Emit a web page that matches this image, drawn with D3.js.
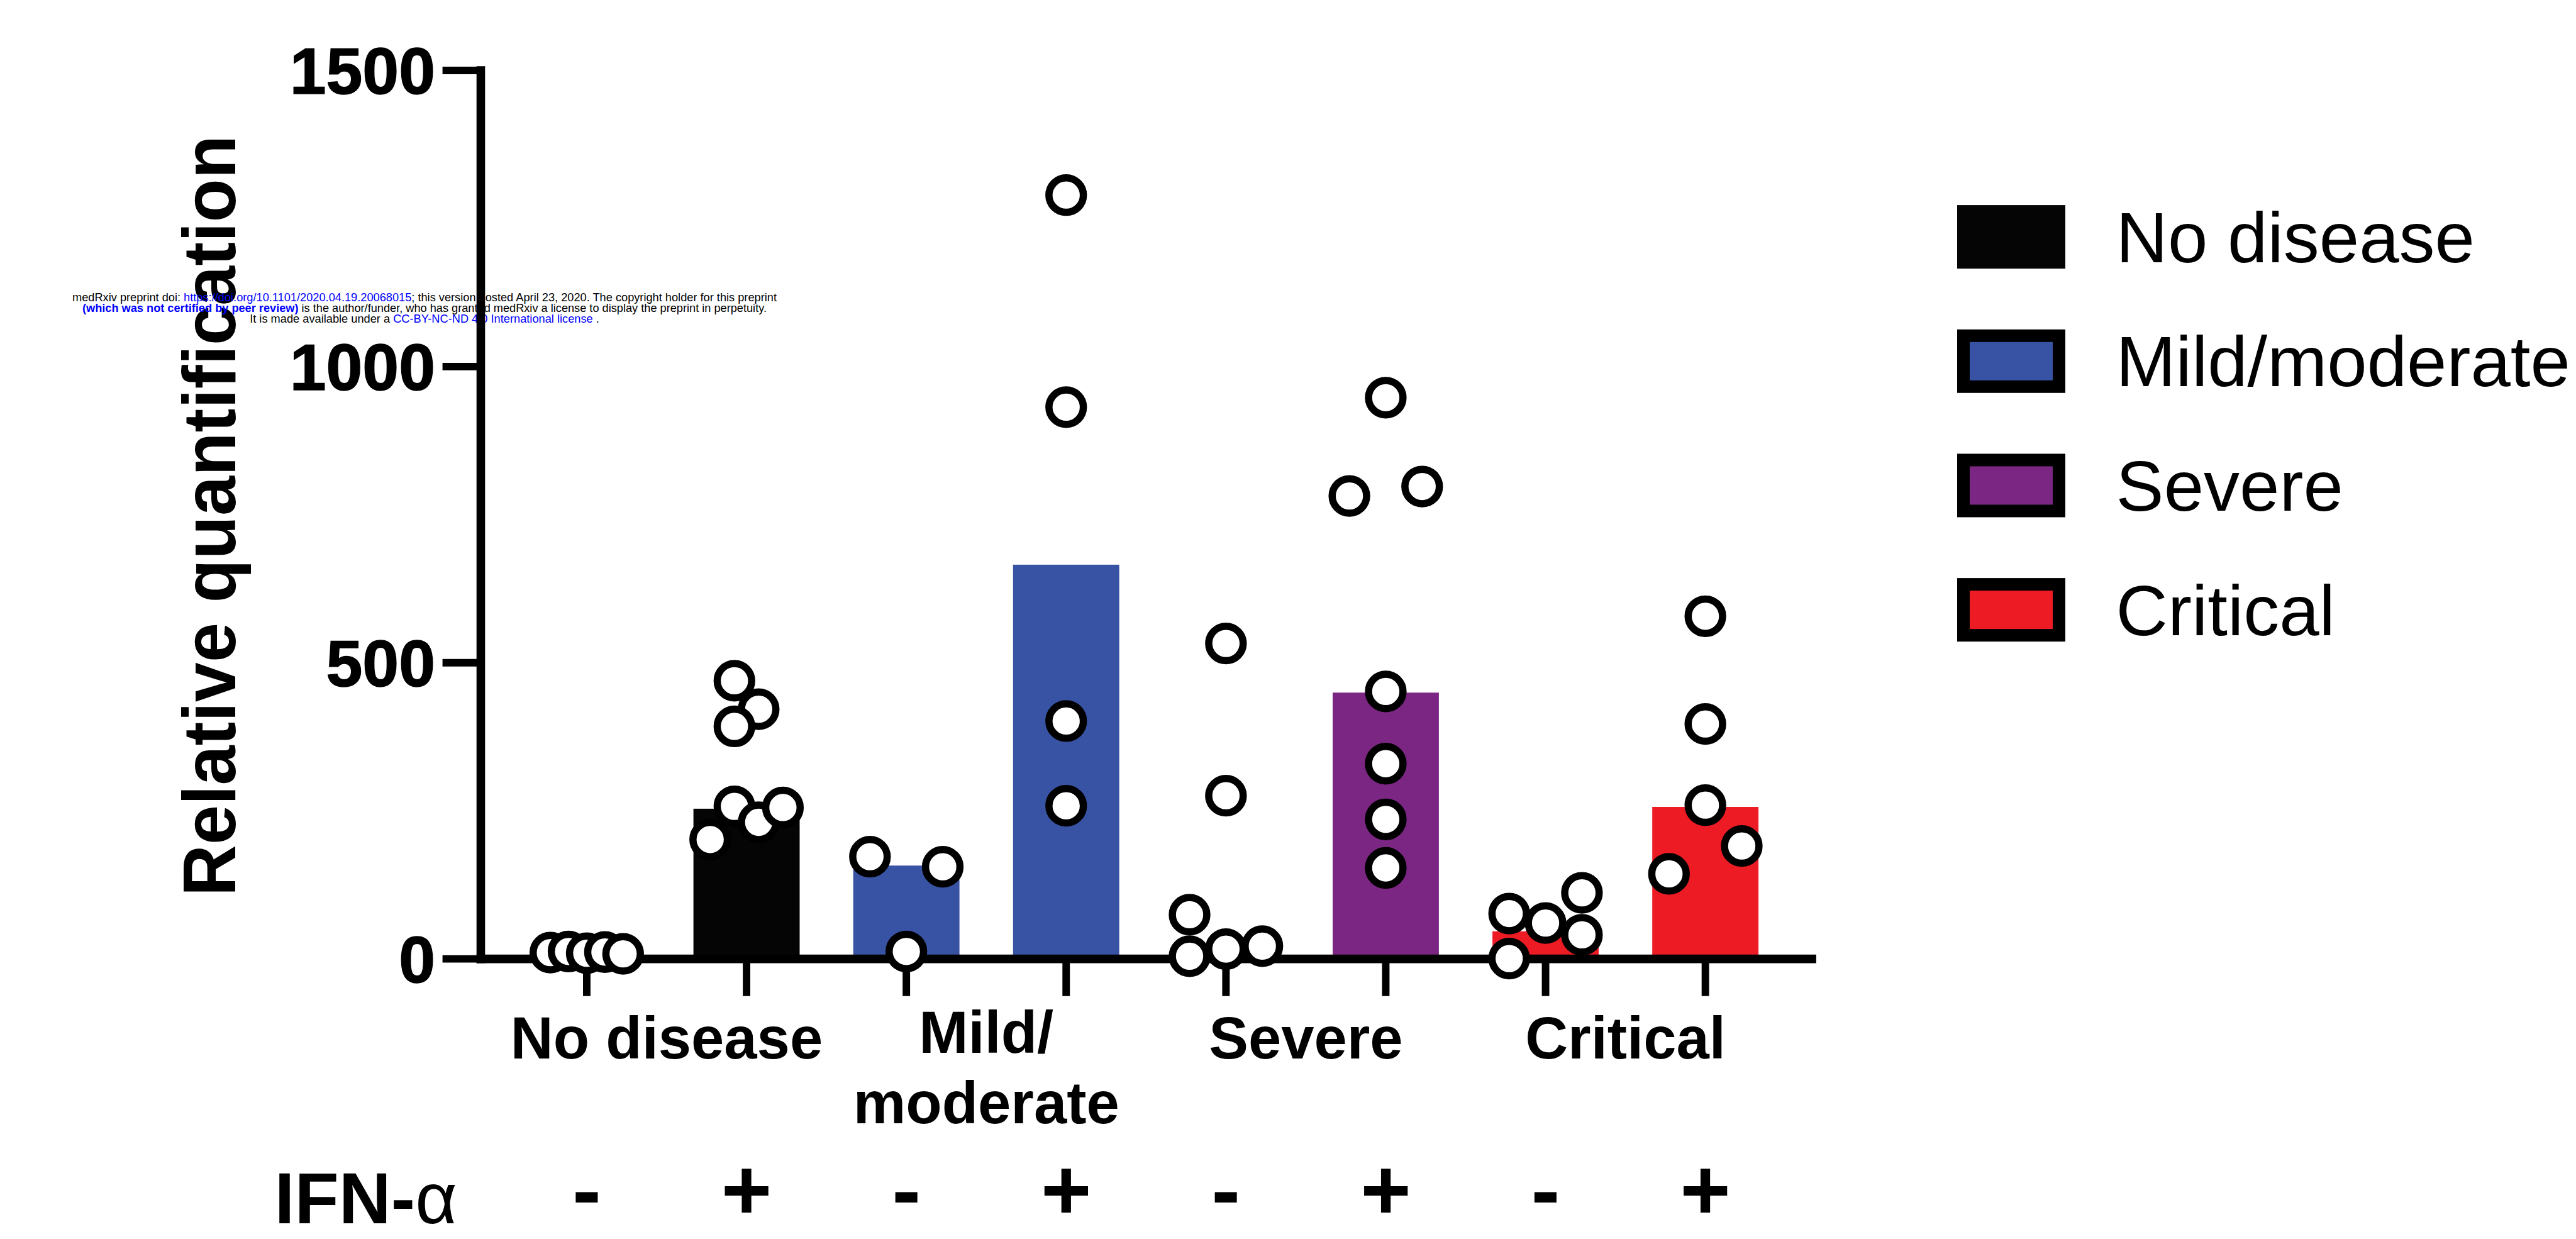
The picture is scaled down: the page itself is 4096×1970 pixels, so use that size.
<!DOCTYPE html>
<html>
<head>
<meta charset="utf-8">
<script src="https://cdn.jsdelivr.net/npm/d3@7"></script>
<style>
  html, body { margin: 0; padding: 0; background: #fff; }
  svg { display: block; }
</style>
</head>
<body>
<svg id="chart" width="4096" height="1970"></svg>
<script>
// ---- data -------------------------------------------------------------
const categories = ["No disease", "Mild/moderate", "Severe", "Critical"];
const categoryLines = [["No disease"], ["Mild/", "moderate"], ["Severe"], ["Critical"]];
const ifnAlpha = ["-", "+"];
const categoryColors = ["#050505", "#3953a4", "#7b2682", "#ed1c24"];

// bar heights, one per group (category × IFN-α), in plotting order
const barValues = [5, 253, 157, 665, 3, 449, 46, 256];

// individual samples per group
const noDiseaseMinus = [10, 12, 9, 11, 8];
const noDiseasePlus  = [469, 421, 392, 201, 257, 230, 255];
const mildMinus      = [172, 155, 12];
const mildPlus       = [1289, 931, 401, 258];
const severeMinus    = [532, 275, 4, 16, 21, 74];
const severePlus     = [947, 781, 797, 451, 329, 235, 153];
const criticalMinus  = [0, 60, 40, 76, 111];
const criticalPlus   = [578, 396, 259, 143, 190];

const groupSamples = [noDiseaseMinus, noDiseasePlus, mildMinus, mildPlus,
                      severeMinus, severePlus, criticalMinus, criticalPlus];

const yTicks = [0, 500, 1000, 1500];
const yLabel = "Relative quantification";

// ---- layout -----------------------------------------------------------
const svg = d3.select("#chart");
const FONT = "'Liberation Sans', Arial, Helvetica, sans-serif";

const axisX = 764, axisY = 1524.1, plotRight = 2880.6, plotTop = 111.5;

const y = d3.scaleLinear().domain([0, 1500]).range([axisY, plotTop]);
const x = d3.scaleBand()
  .domain(d3.range(groupSamples.length))
  .range([axisX, plotRight])
  .paddingInner(0.3353)
  .paddingOuter(0.3326);

const center = i => x(i) + x.bandwidth() / 2;
const catOf = i => Math.floor(i / ifnAlpha.length);

// y axis title
svg.append("text")
  .attr("transform", `translate(374.4, 820) rotate(-90)`)
  .attr("text-anchor", "middle")
  .attr("font-family", FONT)
  .attr("font-weight", "bold")
  .attr("font-size", 119)
  .attr("textLength", 1210)
  .attr("lengthAdjust", "spacingAndGlyphs")
  .text(yLabel);

// preprint notice overlaid across the upper left
const notice = [
  { y: 478.9, len: 1120, parts: [
    { t: "medRxiv preprint doi: ", c: "#000" },
    { t: "https://doi.org/10.1101/2020.04.19.20068015", c: "#0000ff" },
    { t: "; this version posted April 23, 2020. The copyright holder for this preprint", c: "#000" } ] },
  { y: 495.9, len: 1088, parts: [
    { t: "(which was not certified by peer review)", c: "#0000ff", b: true },
    { t: " is the author/funder, who has granted medRxiv a license to display the preprint in perpetuity.", c: "#000" } ] },
  { y: 513.4, len: 555.7, parts: [
    { t: "It is made available under a ", c: "#000" },
    { t: "CC-BY-NC-ND 4.0 International license", c: "#0000ff" },
    { t: " .", c: "#000" } ] }
];
const noticeG = svg.append("g")
  .attr("font-family", FONT)
  .attr("font-size", 17.9);
notice.forEach(line => {
  const t = noticeG.append("text")
    .attr("x", 675).attr("y", line.y)
    .attr("text-anchor", "middle")
    .attr("textLength", line.len)
    .attr("lengthAdjust", "spacingAndGlyphs");
  line.parts.forEach(p => {
    t.append("tspan").attr("fill", p.c)
      .attr("font-weight", p.b ? "bold" : "normal")
      .text(p.t);
  });
});

// bars
svg.append("g").selectAll("rect")
  .data(barValues)
  .join("rect")
  .attr("x", (d, i) => x(i))
  .attr("y", d => y(d))
  .attr("width", x.bandwidth())
  .attr("height", d => y(0) - y(d))
  .attr("fill", (d, i) => categoryColors[catOf(i)]);

// axes
const yAxis = d3.axisLeft(y)
  .tickValues(yTicks)
  .tickSize(60.4)
  .tickSizeOuter(0)
  .tickPadding(11.6)
  .tickFormat(d3.format("d"));

const gy = svg.append("g")
  .attr("transform", `translate(${axisX},0)`)
  .call(yAxis);
gy.select(".domain").attr("stroke-width", 13.6).attr("stroke-linecap", "square");
gy.selectAll(".tick line").attr("stroke-width", 11.9);
gy.selectAll(".tick text")
  .attr("font-family", FONT)
  .attr("font-weight", "bold")
  .attr("font-size", 104)
  .attr("dy", "0.36em")
  .attr("stroke", "#000")
  .attr("stroke-width", 1.5);

const xAxis = d3.axisBottom(x)
  .tickSize(59.6)
  .tickSizeOuter(0)
  .tickFormat("");
const gx = svg.append("g")
  .attr("transform", `translate(0,${axisY})`)
  .call(xAxis);
gx.select(".domain").attr("stroke-width", 13.6).attr("stroke-linecap", "square");
gx.selectAll(".tick line").attr("stroke-width", 11.9);

// horizontal spreading of samples that would overlap vertically:
// samples are chained into rows, each row is split into columns
// (in sample order), and columns share one spacing per group.
function spreadOffsets(values, minGap, spread) {
  const order = d3.range(values.length).sort((a, b) => values[a] - values[b]);
  const rows = [];
  let cur = [order[0]];
  for (let k = 1; k < order.length; k++) {
    if (Math.abs(y(values[order[k]]) - y(values[order[k - 1]])) < minGap) cur.push(order[k]);
    else { rows.push(cur); cur = [order[k]]; }
  }
  rows.push(cur);

  const col = new Array(values.length);
  const rowCols = rows.map(r => {
    const cols = [];
    r.slice().sort((a, b) => a - b).forEach(i => {
      let c = cols.findIndex(list =>
        list.every(j => Math.abs(y(values[i]) - y(values[j])) >= minGap));
      if (c < 0) { c = cols.length; cols.push([]); }
      cols[c].push(i);
      col[i] = c;
    });
    return cols.length;
  });
  const kmax = d3.max(rowCols);
  const step = kmax > 1 ? spread / (kmax - 1) : 0;
  const off = new Array(values.length);
  rows.forEach((r, ri) => {
    const k = rowCols[ri];
    r.forEach(i => { off[i] = (col[i] - (k - 1) / 2) * step; });
  });
  return off;
}

const points = [];
groupSamples.forEach((vals, gi) => {
  const off = spreadOffsets(vals, 63, x.bandwidth() * 0.685);
  vals.forEach((v, k) => points.push({ g: gi, v, dx: off[k] }));
});

svg.append("g").selectAll("circle")
  .data(points)
  .join("circle")
  .attr("cx", d => center(d.g) + d.dx)
  .attr("cy", d => y(d.v))
  .attr("r", 27.4)
  .attr("fill", "#fff")
  .attr("stroke", "#000")
  .attr("stroke-width", 11.5);

// category labels under each pair of bars
const catG = svg.append("g")
  .attr("font-family", FONT)
  .attr("font-weight", "bold")
  .attr("font-size", 94)
  .attr("text-anchor", "middle");
categoryLines.forEach((lines, ci) => {
  const cx = (center(ci * 2) + center(ci * 2 + 1)) / 2;
  const base = lines.length > 1 ? 1674 : 1683;
  const t = catG.append("text").attr("x", cx).attr("y", base);
  lines.forEach((ln, li) => {
    t.append("tspan").attr("x", cx).attr("y", base + li * 111.5).text(ln);
  });
});

// IFN-α row along the bottom edge
const ifn = svg.append("text")
  .attr("x", 436.6).attr("y", 1945)
  .attr("font-family", FONT)
  .attr("font-size", 115);
ifn.append("tspan").attr("font-weight", "bold").text("IFN-");
ifn.append("tspan").attr("font-weight", "normal").text("\u03b1");

svg.append("g")
  .attr("font-family", FONT)
  .attr("font-weight", "bold")
  .attr("font-size", 138)
  .attr("text-anchor", "middle")
  .selectAll("text")
  .data(d3.range(groupSamples.length))
  .join("text")
  .attr("x", i => center(i))
  .attr("y", 1939)
  .text(i => ifnAlpha[i % ifnAlpha.length]);

// legend
const legendY = d3.scalePoint().domain(categories).range([376.6, 969.6]);
const lg = svg.append("g");
const swW = 172, swH = 101, border = 20;
categories.forEach((c, ci) => {
  const cy = legendY(c);
  if (ci === 0) {
    lg.append("rect")
      .attr("x", 3112).attr("y", cy - swH / 2)
      .attr("width", swW).attr("height", swH)
      .attr("fill", categoryColors[ci]);
  } else {
    lg.append("rect")
      .attr("x", 3112 + border / 2).attr("y", cy - swH / 2 + border / 2)
      .attr("width", swW - border).attr("height", swH - border)
      .attr("fill", categoryColors[ci])
      .attr("stroke", "#000")
      .attr("stroke-width", border);
  }
  lg.append("text")
    .attr("x", 3364.6).attr("y", cy + 40)
    .attr("font-family", FONT)
    .attr("font-size", 114)
    .text(c);
});
</script>
</body>
</html>
